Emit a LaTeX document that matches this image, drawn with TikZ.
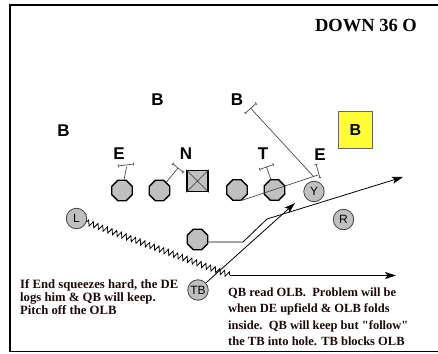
\documentclass[tikz,border=0pt]{standalone}
\usepackage{fontspec}
\setmainfont{Liberation Serif}[Ligatures=TeXOff]
\newfontfamily\labelfont{Liberation Sans}
\usetikzlibrary{shapes.geometric,arrows.meta,decorations.pathmorphing}
\definecolor{playergray}{HTML}{C0C0C0}
\definecolor{keyyellow}{HTML}{FFFF33}
\definecolor{notecolor}{HTML}{1A0808}
\begin{document}
\begin{tikzpicture}[x=1pt,y=-1pt,
  lineman/.style={regular polygon, regular polygon sides=8, minimum size=22pt,
    inner sep=0pt, fill=playergray, draw=black, line width=1.3pt},
  back/.style={circle, minimum size=20.5pt, inner sep=0pt, fill=playergray,
    draw=black!75, line width=0.8pt, font=\labelfont\fontsize{12}{12}\selectfont},
  centre/.style={rectangle, minimum size=21pt, inner sep=0pt, fill=playergray,
    draw=black, line width=1.6pt},
  defender/.style={anchor=base, inner sep=0pt,
    font=\labelfont\bfseries\fontsize{17}{17}\selectfont},
  route/.style={draw=black, line width=0.8pt},
  routearrow/.style={route, -{Stealth[length=11pt,width=7pt,inset=2.5pt]}},
  blockline/.style={draw=black!70, line width=0.7pt},
  blockbar/.style={draw=black!70, line width=0.7pt, {Bar[width=3pt]}-{Bar[width=3pt]}},
  note/.style={anchor=base west, align=left, inner sep=0pt, text=notecolor},
]
\useasboundingbox (0,0) rectangle (438,353);

% frame, open on the right
\draw[line width=1.8pt] (438,5) -- (9.8,5) -- (9.8,351.5) -- (438,351.5);

% play name
\node[anchor=base, inner sep=0pt, font=\bfseries\fontsize{18.5}{18.5}\selectfont]
  (title) at (366,31.5) {DOWN 36 O};

% defence
\node[defender] (b1) at (157.5,105.5) {B};
\node[defender] (b2) at (237,105.5) {B};
\node[defender] (b3) at (63.5,136) {B};
\node[defender] (eleft) at (119,159.5) {E};
\node[defender] (nose) at (186,159.5) {N};
\node[defender] (tackle) at (263,159.5) {T};
\node[defender] (eright) at (320,160) {E};
\node[draw=black!60, fill=keyyellow, line width=0.8pt, minimum width=34pt,
  minimum height=37pt, inner sep=0pt,
  font=\labelfont\bfseries\fontsize{16}{16}\selectfont] (olb) at (355.5,129.5) {B};

% offence
\node[lineman] (og1) at (122,190.5) {};
\node[lineman] (og2) at (159.5,190.5) {};
\node[centre] (ctr) at (197.5,181) {};
\draw[black!80, line width=0.6pt] (ctr.north west) -- (ctr.south east)
  (ctr.north east) -- (ctr.south west);
\node[lineman] (og3) at (237,190) {};
\node[lineman] (og4) at (274.5,190) {};
\node[back] (y) at (314,191.5) {Y};
\node[back] (l) at (76.5,218.5) {L};
\node[back] (r) at (343.5,219.5) {R};
\node[lineman] (qb) at (197.5,239.5) {};
\node[back] (tb) at (198,290) {TB};

% blocking assignments
\coordinate (eltee) at (126.5,167);
\draw[blockline] (og1) -- (eltee);
\draw[blockbar] (118,166) -- (134,164);

\coordinate (ntee) at (178,168);
\draw[blockline] (og2) -- (ntee);
\draw[blockbar] (172.6,163.6) -- (183.4,172.4);

\coordinate (ttee) at (266.5,167);
\draw[blockline] (og4) -- (ttee);
\draw[blockbar] (259.4,169.5) -- (273.6,164.5);

\coordinate (gend) at (318,175);
\draw[blockline] (og3.-72) -- (gend);
\draw[blockbar] (316,164) -- (320,178);

\coordinate (b2tee) at (250.7,108.3);
\coordinate (b2end) at (314,177);
\draw[blockline] (b2tee) -- (b2end);
\draw[blockbar] (245.1,113.3) -- (256.3,103.3);

% ball carriers
\coordinate (zzend) at (231,275.5);
\coordinate (pitchend) at (396,275.5);
\draw[route, decorate, decoration={zigzag, segment length=5pt, amplitude=2.8pt}]
  (l) -- (zzend);
\draw[routearrow] (zzend) -- (pitchend);

\coordinate (qbturn) at (243,242);
\coordinate (qbcut) at (267,219);
\coordinate (keeptip) at (403,177);
\draw[routearrow] ([yshift=-2.5pt]qb.east) -- (qbturn) -- (qbcut) -- (keeptip);

\coordinate (tbtip) at (295,203);
\draw[routearrow] (tb) -- (tbtip);

% coaching notes (anchored on the baseline of the last line)
\node[note, font=\bfseries\fontsize{12.7}{13}\selectfont] (leftnote) at (20,314)
  {If End squeezes hard, the DE\\logs him \& QB will keep.\\Pitch off the OLB};
\node[note, font=\bfseries\fontsize{12.5}{16.3}\selectfont] (rightnote) at (228,345.5)
  {QB read OLB.\ \ Problem will be\\when DE upfield \& OLB folds\\inside.\ \ QB will keep but "follow"\\the TB into hole. TB blocks OLB};
\end{tikzpicture}
\end{document}
